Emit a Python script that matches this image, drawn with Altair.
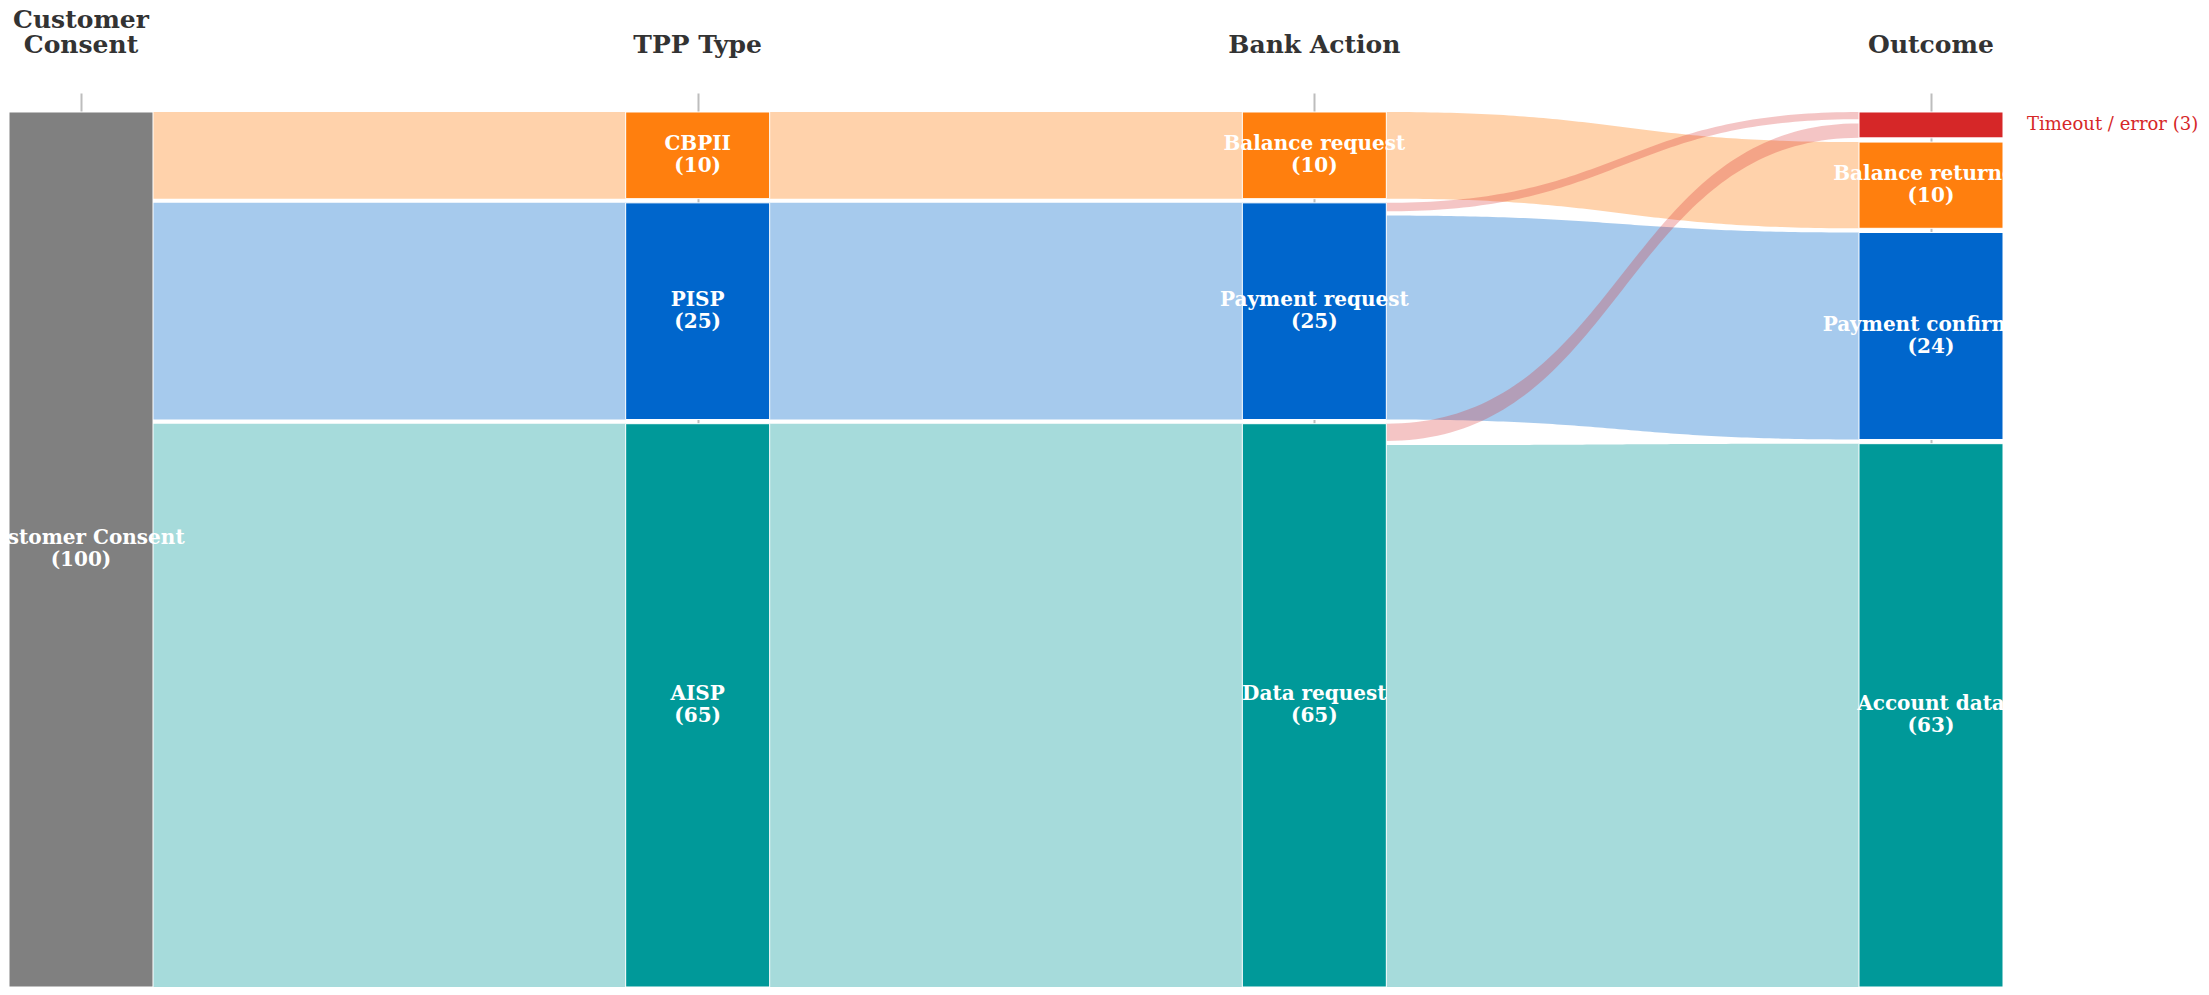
import altair as alt
import pandas as pd

# ---------------- data ----------------
column_titles = ["Customer\nConsent", "TPP Type", "Bank Action", "Outcome"]

node_names = ["Customer Consent", "CBPII", "PISP", "AISP",
              "Balance request", "Payment request", "Data request",
              "Timeout / error", "Balance returned", "Payment confirmed", "Account data"]
node_columns = [0, 1, 1, 1, 2, 2, 2, 3, 3, 3, 3]

link_sources = ["Customer Consent", "Customer Consent", "Customer Consent",
                "CBPII", "PISP", "AISP",
                "Balance request", "Payment request", "Payment request",
                "Data request", "Data request"]
link_targets = ["CBPII", "PISP", "AISP",
                "Balance request", "Payment request", "Data request",
                "Balance returned", "Timeout / error", "Payment confirmed",
                "Timeout / error", "Account data"]
link_values = [10, 25, 65, 10, 25, 65, 10, 1, 24, 2, 63]

# ---------------- styles ----------------
ORANGE, BLUE, TEAL, RED, GRAY = "#ff7f0e", "#0066cc", "#009999", "#d62728", "#808080"
node_colors = {
    "Customer Consent": GRAY, "CBPII": ORANGE, "PISP": BLUE, "AISP": TEAL,
    "Balance request": ORANGE, "Payment request": BLUE, "Data request": TEAL,
    "Timeout / error": RED, "Balance returned": ORANGE,
    "Payment confirmed": BLUE, "Account data": TEAL,
}
ERROR_NODE = "Timeout / error"
SERIF = "DejaVu Serif"

# ---------------- layout ----------------
GAP = 0.48          # vertical gap between stacked nodes/links (layout units)
SPAN = 100.0        # every column fills the same span
TOP_MARGIN = 2.171
HALF_W = 0.11676    # half node width in column units
N_SAMPLES = 90
PLOT_W, PLOT_H = 1994, 894
LABEL_SIZE, LABEL_LH = 20, 22
HEAD_SIZE, HEAD_LH = 25, 25
HEAD_Y = -35

col_of = dict(zip(node_names, node_columns))
order = {n: i for i, n in enumerate(node_names)}
val_in = {n: 0 for n in node_names}
val_out = {n: 0 for n in node_names}
for s, t, v in zip(link_sources, link_targets, link_values):
    val_out[s] += v
    val_in[t] += v
node_value = {n: max(val_in[n], val_out[n]) for n in node_names}

y0n, y1n = {}, {}
for c in range(len(column_titles)):
    members = [n for n in node_names if col_of[n] == c]
    total = sum(node_value[n] for n in members)
    f = (SPAN - (len(members) - 1) * GAP) / total
    y = 0.0
    for n in members:
        y0n[n] = y
        y += node_value[n] * f
        y1n[n] = y
        y += GAP


def stack(ids, node):
    h = y1n[node] - y0n[node]
    avail = h - (len(ids) - 1) * GAP
    tot = sum(link_values[i] for i in ids)
    y = y0n[node]
    res = {}
    for i in ids:
        w = link_values[i] / tot * avail
        res[i] = (y, y + w)
        y += w + GAP
    return res


src_pos, tgt_pos = {}, {}
for n in node_names:
    outs = sorted([i for i, s in enumerate(link_sources) if s == n], key=lambda i: order[link_targets[i]])
    ins = sorted([i for i, t in enumerate(link_targets) if t == n], key=lambda i: order[link_sources[i]])
    if outs:
        src_pos.update(stack(outs, n))
    if ins:
        tgt_pos.update(stack(ins, n))

rows = []
for i, (s, t, v) in enumerate(zip(link_sources, link_targets, link_values)):
    x0 = col_of[s] + HALF_W
    x1 = col_of[t] - HALF_W
    (sa, sb), (ta, tb) = src_pos[i], tgt_pos[i]
    for k in range(N_SAMPLES + 1):
        u = k / N_SAMPLES
        fx = 1.5 * u * (1 - u) + u ** 3
        fy = 3 * u * u - 2 * u ** 3
        rows.append({
            "link": i, "target": t, "error": t == ERROR_NODE,
            "x": x0 + (x1 - x0) * fx,
            "ytop": sa + (ta - sa) * fy,
            "ybot": sb + (tb - sb) * fy,
        })
links_df = pd.DataFrame(rows)

nodes_df = pd.DataFrame({
    "name": node_names,
    "col": node_columns,
    "x0": [c - HALF_W for c in node_columns],
    "x1": [c + HALF_W for c in node_columns],
    "y0": [y0n[n] for n in node_names],
    "y1": [y1n[n] for n in node_names],
    "value": [node_value[n] for n in node_names],
})
nodes_df["ymid"] = (nodes_df["y0"] + nodes_df["y1"]) / 2
nodes_df["label"] = nodes_df["name"] + "\n(" + nodes_df["value"].astype(str) + ")"
nodes_df["outer"] = nodes_df["name"] + " (" + nodes_df["value"].astype(str) + ")"

# header lines, counted from the bottom line of each header
head_rows = []
for c, title in enumerate(column_titles):
    lines = title.split("\n")
    for j, line in enumerate(lines):
        head_rows.append({"col": c, "line": line, "up": len(lines) - 1 - j})
heads_df = pd.DataFrame(head_rows)

# ---------------- encodings ----------------
xscale = alt.Scale(domain=[-HALF_W, len(column_titles) - 1 + HALF_W], nice=False, zero=False)
yscale = alt.Scale(domain=[-TOP_MARGIN, SPAN], reverse=True, nice=False, zero=False)
cscale = alt.Scale(domain=list(node_colors.keys()), range=list(node_colors.values()))

xaxis = alt.Axis(values=list(range(len(column_titles))), grid=True, gridColor="#bdbdbd",
                 gridWidth=2, labels=False, ticks=False, domain=False, title=None, orient="top")

base_links = alt.Chart(links_df)

links_normal = base_links.transform_filter("!datum.error").mark_area(
    orient="vertical", interpolate="linear", opacity=0.35
).encode(
    x=alt.X("x:Q", scale=xscale, axis=xaxis),
    y=alt.Y("ytop:Q", scale=yscale, axis=None, stack=None),
    y2="ybot:Q",
    color=alt.Color("target:N", scale=cscale, legend=None),
    detail="link:N",
)

links_error = base_links.transform_filter("datum.error").mark_area(
    orient="vertical", interpolate="linear", opacity=0.27
).encode(
    x=alt.X("x:Q", scale=xscale),
    y=alt.Y("ytop:Q", scale=yscale, stack=None),
    y2="ybot:Q",
    color=alt.Color("target:N", scale=cscale, legend=None),
    detail="link:N",
)

nodes = alt.Chart(nodes_df).mark_rect(stroke="white", strokeWidth=1).encode(
    x=alt.X("x0:Q", scale=xscale),
    x2="x1:Q",
    y=alt.Y("y0:Q", scale=yscale),
    y2="y1:Q",
    color=alt.Color("name:N", scale=cscale, legend=None),
)

inner_labels = alt.Chart(nodes_df).transform_filter("datum.value >= 5").mark_text(
    font=SERIF, fontSize=LABEL_SIZE, fontWeight="bold", color="white", align="center",
    baseline="middle", lineBreak="\n", lineHeight=LABEL_LH, dy=-LABEL_LH / 2, clip=True
).encode(
    x=alt.X("col:Q", scale=xscale),
    y=alt.Y("ymid:Q", scale=yscale),
    text="label:N",
)

outer_labels = alt.Chart(nodes_df).transform_filter("datum.value < 5").mark_text(
    font=SERIF, fontSize=18, color=RED, align="left", baseline="middle", dx=24
).encode(
    x=alt.X("x1:Q", scale=xscale),
    y=alt.Y("ymid:Q", scale=yscale),
    text="outer:N",
)

head_style = dict(font=SERIF, fontSize=HEAD_SIZE, fontWeight="bold", color="#333333",
                  align="center", baseline="bottom")
headers_low = alt.Chart(heads_df).transform_filter("datum.up == 0").mark_text(**head_style).encode(
    x=alt.X("col:Q", scale=xscale),
    y=alt.value(HEAD_Y),
    text="line:N",
)
headers_up = alt.Chart(heads_df).transform_filter("datum.up == 1").mark_text(**head_style).encode(
    x=alt.X("col:Q", scale=xscale),
    y=alt.value(HEAD_Y - HEAD_LH),
    text="line:N",
)

chart = alt.layer(links_normal, links_error, nodes, inner_labels, outer_labels,
                  headers_low, headers_up).properties(
    width=PLOT_W, height=PLOT_H,
    autosize=alt.AutoSizeParams(type="none"),
    padding={"left": 1, "top": 85, "right": 198, "bottom": 0},
).configure_view(stroke=None)

chart.save("out.html", embed_options={"renderer": "svg", "actions": False})
